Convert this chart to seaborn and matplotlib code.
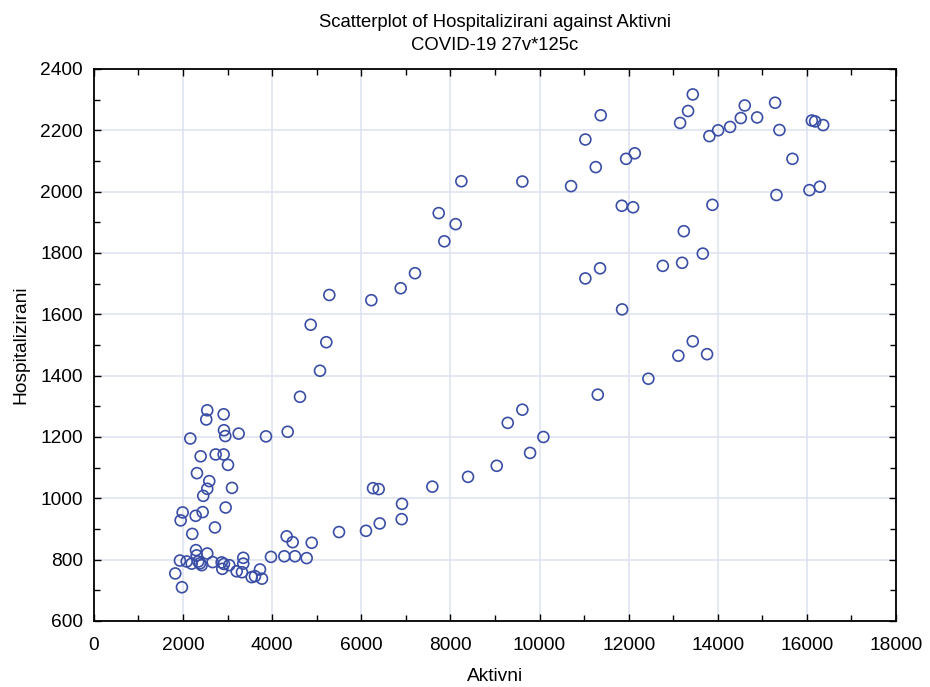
import matplotlib
matplotlib.use("Agg")
import matplotlib.pyplot as plt
from matplotlib.ticker import MultipleLocator
import seaborn as sns

aktivni = [
    4624, 2543, 2521, 2911, 2918, 2948, 3248, 2162, 3861, 4348,
    2395, 2732, 2911, 3008, 2312, 2588, 2543, 2453, 3098, 1991,
    1946, 2283, 2440, 2956, 2716, 2207, 4325, 4460, 4887, 5500,
    2290, 2305, 2543, 1930, 2081, 2193, 2341, 2379, 2417, 2664,
    2866, 2918, 2880, 3037, 3203, 3322, 3351, 3351, 3540, 3614,
    3726, 3771, 3973, 4272, 4512, 4774, 1825, 1975,
    6105, 6413, 6263, 6390, 6913, 6906, 7594, 8395, 9039, 9787,
    10086, 9286, 9614,
    8245, 9614, 7737, 8118, 7863, 7205, 6884, 5282, 6225, 4864,
    5215, 5073,
    13438, 13333, 13154, 11373, 11028, 12137, 11942, 11261, 10707, 13811,
    14007, 14276, 11845, 12099, 13879, 13237, 13663, 13199, 12766, 11358,
    11028,
    14516, 14605, 14882, 15286, 15383, 15675, 15316, 16057, 16290, 16110,
    16184, 16364,
    11852, 13438, 13115, 13759, 12442, 11306,
]
hospitalizirani = [
    1331, 1287, 1257, 1274, 1222, 1203, 1211, 1195, 1202, 1217,
    1137, 1143, 1143, 1109, 1082, 1056, 1031, 1008, 1034, 954,
    928, 943, 955, 970, 905, 884, 876, 857, 855, 890,
    831, 814, 820, 797, 794, 787, 794, 788, 782, 792,
    791, 786, 770, 782, 762, 759, 806, 787, 743, 746,
    768, 738, 809, 811, 811, 805, 755, 710,
    894, 918, 1033, 1030, 982, 932, 1038, 1070, 1106, 1148,
    1200, 1246, 1289,
    2034, 2033, 1930, 1894, 1838, 1734, 1685, 1663, 1646, 1566,
    1509, 1416,
    2317, 2263, 2224, 2249, 2170, 2125, 2107, 2080, 2018, 2181,
    2200, 2211, 1954, 1949, 1957, 1871, 1798, 1768, 1758, 1750,
    1717,
    2240, 2281, 2242, 2290, 2201, 2107, 1989, 2005, 2016, 2232,
    2229, 2217,
    1616, 1512, 1465, 1470, 1390, 1338,
]

TITLE = "Scatterplot of Hospitalizirani against Aktivni\nCOVID-19 27v*125c"
MARKER_COLOUR = "#3a4ea6"
GRID_COLOUR = "#dde2ef"

sns.set_style("white")
plt.rcParams["font.family"] = ["Liberation Sans", "DejaVu Sans"]
plt.rcParams["text.color"] = "black"
plt.rcParams["axes.labelcolor"] = "black"
plt.rcParams["xtick.color"] = "black"
plt.rcParams["ytick.color"] = "black"

fig, ax = plt.subplots(figsize=(9.3, 6.87), dpi=100)
fig.subplots_adjust(left=0.101, right=0.9635, top=0.8996, bottom=0.0961)

sns.scatterplot(
    x=aktivni,
    y=hospitalizirani,
    marker="o",
    s=62,
    facecolor="none",
    edgecolor=MARKER_COLOUR,
    linewidth=1.2,
    ax=ax,
    zorder=3,
)

ax.set_xlim(0, 18000)
ax.set_ylim(600, 2400)
ax.xaxis.set_major_locator(MultipleLocator(2000))
ax.xaxis.set_minor_locator(MultipleLocator(1000))
ax.yaxis.set_major_locator(MultipleLocator(200))
ax.yaxis.set_minor_locator(MultipleLocator(100))

ax.grid(True, which="major", color=GRID_COLOUR, linewidth=1.1, zorder=0)
ax.set_axisbelow(True)

for spine in ax.spines.values():
    spine.set_visible(True)
    spine.set_color("black")
    spine.set_linewidth(1.3)

ax.tick_params(which="both", direction="in", top=True, right=True,
               bottom=True, left=True, width=1.0)
ax.tick_params(which="major", length=5, labelsize=13.8)
ax.tick_params(which="minor", length=4)
ax.tick_params(axis="x", which="major", pad=11.5)
ax.tick_params(axis="y", which="major", pad=8)

ax.set_xlabel("Aktivni", fontsize=13.8, labelpad=10)
ax.set_ylabel("Hospitalizirani", fontsize=13.8, labelpad=8)
ax.set_title(TITLE, fontsize=13.3, linespacing=1.42, pad=14)

fig.savefig("out.png", dpi=100)
plt.close(fig)
